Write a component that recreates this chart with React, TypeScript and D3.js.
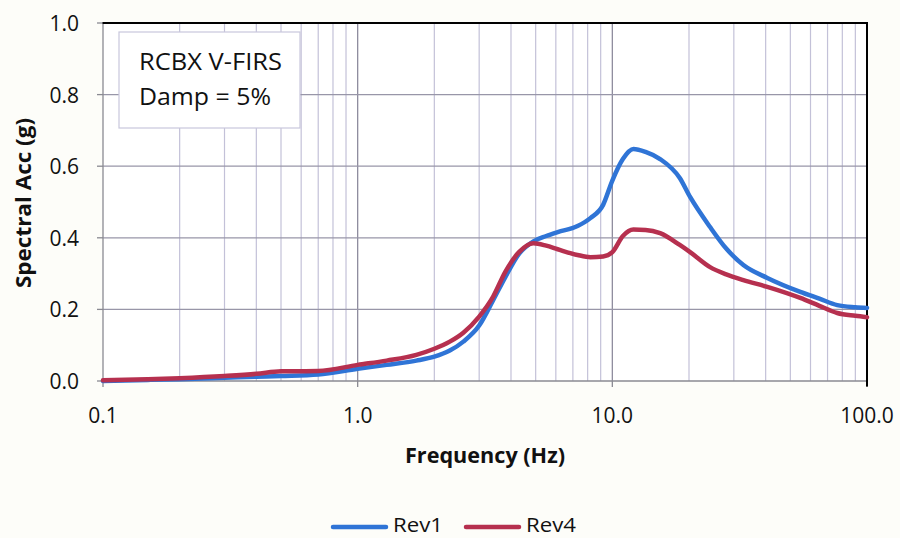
import React from "react";
import * as d3 from "d3";

// Frequencies (Hz) shared by both spectra
const freqs = [0.1, 0.15, 0.2, 0.3, 0.4, 0.5, 0.7, 1.0, 1.3, 1.7, 2.0, 2.3, 2.6, 3.0, 3.4, 3.8, 4.3, 4.9, 5.5, 6.1, 7.3, 8.2, 9.2, 10, 11, 12.1, 13.5, 15.4, 18.4, 20.2, 24.2, 28, 32.7, 40.6, 54.7, 65, 76.4, 90, 100];

// Spectral acceleration (g)
const rev1 = [0.0, 0.003, 0.005, 0.009, 0.012, 0.014, 0.018, 0.034, 0.045, 0.057, 0.068, 0.085, 0.11, 0.155, 0.225, 0.29, 0.355, 0.39, 0.405, 0.416, 0.433, 0.455, 0.492, 0.56, 0.62, 0.648, 0.64, 0.62, 0.567, 0.514, 0.43, 0.37, 0.324, 0.288, 0.249, 0.23, 0.212, 0.206, 0.204];
const rev4 = [0.002, 0.005, 0.008, 0.014, 0.02, 0.027, 0.028, 0.045, 0.057, 0.073, 0.09, 0.11, 0.135, 0.18, 0.235, 0.305, 0.36, 0.385, 0.378, 0.368, 0.352, 0.346, 0.348, 0.36, 0.405, 0.423, 0.422, 0.413, 0.38, 0.36, 0.318, 0.298, 0.282, 0.263, 0.232, 0.21, 0.19, 0.182, 0.178];

const xTicks = [0.1, 1, 10, 100];
const xTickLabels = ["0.1", "1.0", "10.0", "100.0"];
const yTicks = [0, 0.2, 0.4, 0.6, 0.8, 1.0];

const seriesNames = ["Rev1", "Rev4"];
const seriesColors = ["#2f74d6", "#b6304f"];

const W = 900;
const H = 538;
const font = "'Open Sans', Lato, sans-serif";

export default function App() {
  const x = d3.scaleLog().domain([0.1, 100]).range([103, 867]);
  const y = d3.scaleLinear().domain([0, 1]).range([381, 23]);

  const minorTicks: number[] = [];
  [0.1, 1, 10].forEach((d) => {
    for (let k = 2; k <= 9; k++) minorTicks.push(d * k);
  });

  const line = d3
    .line<[number, number]>()
    .x((d) => x(d[0]))
    .y((d) => y(d[1]))
    .curve(d3.curveMonotoneX);

  const series = [rev1, rev4].map((vals) => freqs.map((f, i) => [f, vals[i]] as [number, number]));

  return (
    <svg width={W} height={H} style={{ position: "absolute", left: 0, top: 0, background: "#fdfdf9" }}>
      <rect x={x(0.1)} y={y(1)} width={x(100) - x(0.1)} height={y(0) - y(1)} fill="#ffffff" />
      {/* minor vertical grid */}
      {minorTicks.map((t) => (
        <line key={"m" + t} x1={x(t)} x2={x(t)} y1={y(0)} y2={y(1)} stroke="#c3c1d8" strokeWidth={1.2} />
      ))}
      {/* major vertical grid */}
      {xTicks.slice(1, 3).map((t) => (
        <line key={"M" + t} x1={x(t)} x2={x(t)} y1={y(0)} y2={y(1)} stroke="#8e8c9e" strokeWidth={1.3} />
      ))}
      {/* horizontal grid */}
      {yTicks.slice(1).map((t) => (
        <line key={"h" + t} x1={x(0.1)} x2={x(100)} y1={y(t)} y2={y(t)} stroke="#9896a8" strokeWidth={1.3} />
      ))}
      {/* annotation box */}
      <rect x={119} y={32} width={181} height={96} fill="#ffffff" stroke="#c8c7dc" strokeWidth={1.2} />
      <text x={139} y={70} fontFamily={font} fontSize={23} fill="#111" textLength={143} lengthAdjust="spacingAndGlyphs">RCBX V-FIRS</text>
      <text x={139} y={105} fontFamily={font} fontSize={23} fill="#111" textLength={132} lengthAdjust="spacingAndGlyphs">Damp = 5%</text>
      {/* axes */}
      <line x1={x(0.1)} x2={x(0.1)} y1={y(0)} y2={y(1)} stroke="#8a8a92" strokeWidth={1.3} />
      <line x1={x(0.1)} x2={x(100)} y1={y(0)} y2={y(0)} stroke="#8a8a92" strokeWidth={1.3} />
      <line x1={x(0.1) - 1} x2={x(100) + 1} y1={y(1)} y2={y(1)} stroke="#000" strokeWidth={2} />
      <line x1={x(100)} x2={x(100)} y1={y(1)} y2={y(0) + 5} stroke="#000" strokeWidth={2} />
      {yTicks.map((t) => (
        <g key={"yt" + t}>
          <line x1={x(0.1) - 6} x2={x(0.1)} y1={y(t)} y2={y(t)} stroke="#8a8a92" strokeWidth={1.3} />
          <text x={79} y={y(t) + 8} textAnchor="end" fontFamily={font} fontSize={21} fill="#111">
            {t.toFixed(1)}
          </text>
        </g>
      ))}
      {xTicks.map((t, i) => (
        <g key={"xt" + t}>
          <line x1={x(t)} x2={x(t)} y1={y(0)} y2={y(0) + 6} stroke={i === 3 ? "#000" : "#8a8a92"} strokeWidth={1.3} />
          <text x={x(t)} y={423} textAnchor="middle" fontFamily={font} fontSize={21} fill="#111">
            {xTickLabels[i]}
          </text>
        </g>
      ))}
      {/* series */}
      {series.map((s, i) => (
        <path key={seriesNames[i]} d={line(s) || ""} fill="none" stroke={seriesColors[i]} strokeWidth={4.5} strokeLinejoin="round" strokeLinecap="round" />
      ))}
      {/* axis titles */}
      <text x={405} y={463} fontFamily={font} fontWeight="bold" fontSize={22} fill="#111" textLength={160} lengthAdjust="spacingAndGlyphs">
        Frequency (Hz)
      </text>
      <text transform="translate(31,288) rotate(-90)" fontFamily={font} fontWeight="bold" fontSize={22} fill="#111" textLength={170} lengthAdjust="spacingAndGlyphs">
        Spectral Acc (g)
      </text>
      {/* legend */}
      {seriesNames.map((n, i) => (
        <g key={"lg" + n} transform={`translate(${333 + i * 133},0)`}>
          <line x1={0} x2={53} y1={527} y2={527} stroke={seriesColors[i]} strokeWidth={4.5} strokeLinecap="round" />
          <text x={60} y={532} fontFamily={font} fontSize={20} fill="#111" textLength={50} lengthAdjust="spacingAndGlyphs">{n}</text>
        </g>
      ))}
    </svg>
  );
}
